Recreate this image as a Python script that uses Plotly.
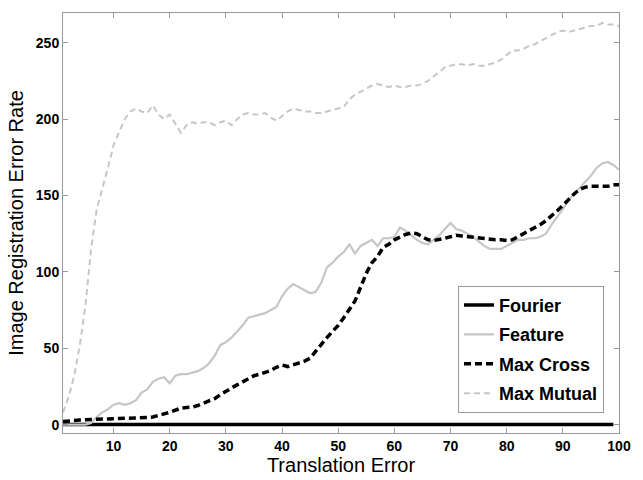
import plotly.graph_objects as go

x_vals = list(range(1, 101))
fourier_x = list(range(1, 100))
fourier = [0] * 99

feature = [0, 0, 0, 0, 0, 1, 5, 8, 10, 13,
           14, 13, 14, 16, 21, 23, 28, 30, 31, 27,
           32, 33, 33, 34, 35, 37, 40, 45, 52, 54,
           57, 61, 65, 70, 71, 72, 73, 75, 77, 84,
           89, 92, 90, 88, 86, 87, 93, 103, 106, 110,
           113, 118, 112, 117, 119, 121, 117, 122, 122, 123,
           129, 127, 124, 121, 119, 118, 121, 124, 128, 132,
           128, 127, 125, 123, 120, 117, 115, 115, 115, 117,
           119, 121, 121, 122, 122, 123, 125, 131, 136, 141,
           147, 151, 155, 159, 163, 168, 171, 172, 170, 167]

max_cross = [2, 2.5, 3, 3, 3.2, 3.3, 3.4, 3.5, 3.6, 3.7,
             3.8, 3.8, 4, 4.2, 4.4, 4.6, 5, 5.8, 7, 8,
             9.5, 10.8, 11.2, 11.4, 12.5, 14, 15.3, 17, 19.5, 22,
             24, 26, 28, 30, 32, 33, 34.3, 35.5, 37.5, 39,
             38, 39, 40.5, 41.5, 43.5, 48, 53, 57, 61, 65,
             70, 76, 81, 90, 99, 106, 110, 116, 118, 121,
             123, 124.5, 125.5, 125, 123, 121, 120.5, 121, 122, 123,
             124, 123.5, 123, 122.5, 122, 122, 121.5, 121, 121, 120.5,
             121, 123, 125, 127, 128.5, 131, 133.5, 136.5, 140, 143.5,
             147.5, 151, 154, 155.5, 156, 156, 155.5, 156, 157, 157]

max_mutual = [8, 18, 32, 52, 78, 115, 141, 154, 168, 183,
              192, 200, 205, 207, 205, 204, 209, 203, 200, 203,
              197, 191, 196, 198, 197, 198, 198, 196, 198, 199,
              196, 200, 203, 204, 203, 203, 204, 201, 199, 202,
              205, 207, 206, 205, 205, 204, 204, 205, 206, 207,
              208, 213, 216, 218, 220, 222, 223, 222, 221, 222,
              221, 221, 222, 222, 223, 225, 228, 231, 234, 235,
              236, 236, 235, 236, 235, 235, 236, 237, 239, 242,
              245, 245, 246, 248, 249, 251, 253, 255, 257, 258,
              257, 258, 259, 260, 261, 261, 263, 262, 262, 261]

x_ticks = [10, 20, 30, 40, 50, 60, 70, 80, 90, 100]
y_ticks = [0, 50, 100, 150, 200, 250]

FONT = "Liberation Sans, Arial, sans-serif"
GRAY = "#c6c6c6"

fig = go.Figure()
fig.add_trace(go.Scatter(x=fourier_x, y=fourier, mode="lines", name="Fourier",
                         legendgroup="a", line=dict(color="black", width=3.5)))
fig.add_trace(go.Scatter(x=x_vals, y=feature, mode="lines", name="Feature",
                         legendgroup="b", line=dict(color=GRAY, width=2.2)))
fig.add_trace(go.Scatter(x=x_vals, y=max_cross, mode="lines", name="Max Cross",
                         legendgroup="c", line=dict(color="black", width=3.5, dash="7px,4px")))
fig.add_trace(go.Scatter(x=x_vals, y=max_mutual, mode="lines", name="Max Mutual",
                         legendgroup="d", line=dict(color=GRAY, width=2, dash="6px,4px")))

axis_common = dict(showline=True, linecolor="#9a9a9a", linewidth=1, mirror="ticks",
                   ticks="inside", ticklen=5, tickcolor="#9a9a9a", showgrid=False,
                   zeroline=False,
                   tickfont=dict(family=FONT, size=14, color="black", weight="bold"))

fig.update_layout(
    width=643, height=480,
    margin=dict(l=63, r=23, t=12, b=36),
    paper_bgcolor="white", plot_bgcolor="white",
    showlegend=True,
    legend=dict(x=0.973, y=0.048, xanchor="right", yanchor="bottom",
                bgcolor="white", bordercolor="#9a9a9a", borderwidth=1,
                font=dict(family=FONT, size=18, color="black", weight="bold"),
                itemwidth=30, tracegroupgap=3),
    xaxis=dict(range=[1, 100], tickvals=x_ticks, ticktext=[str(v) for v in x_ticks],
               title=dict(text="Translation Error", font=dict(family=FONT, size=20, color="black"),
                          standoff=0),
               **axis_common),
    yaxis=dict(range=[-5.5, 269.5], tickvals=y_ticks, ticktext=[str(v) for v in y_ticks],
               title=dict(text="Image Registration Error Rate",
                          font=dict(family=FONT, size=20, color="black"), standoff=6),
               **axis_common),
)

fig.write_html("out.html")
